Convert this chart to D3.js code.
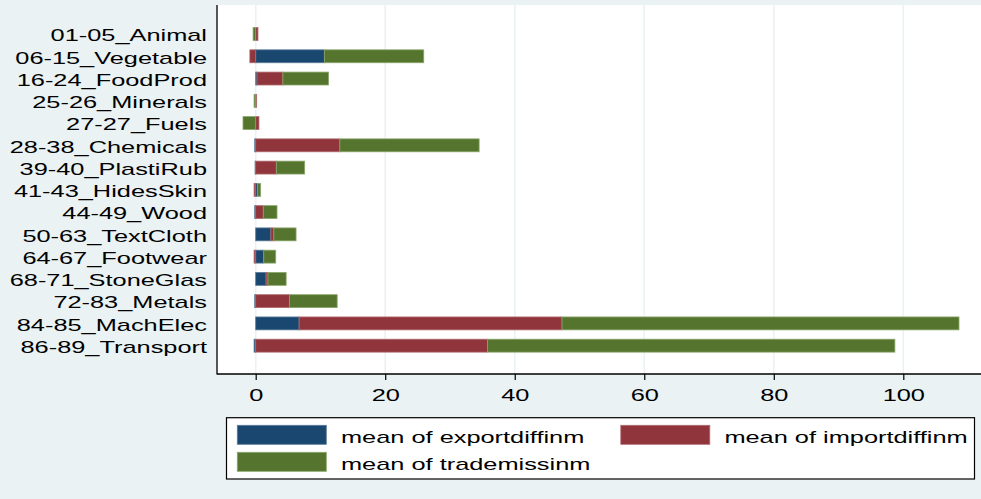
<!DOCTYPE html>
<html>
<head>
<meta charset="utf-8">
<script src="https://cdn.jsdelivr.net/npm/d3@7"></script>
<style>
  html, body { margin: 0; padding: 0; background: #eaf2f3; }
  svg { display: block; }
  text { font-family: "Liberation Sans", Arial, Helvetica, sans-serif; }
</style>
</head>
<body>
<svg id="chart" width="981" height="499"></svg>
<script>
const categories = ["01-05_Animal", "06-15_Vegetable", "16-24_FoodProd", "25-26_Minerals", "27-27_Fuels",
  "28-38_Chemicals", "39-40_PlastiRub", "41-43_HidesSkin", "44-49_Wood", "50-63_TextCloth",
  "64-67_Footwear", "68-71_StoneGlas", "72-83_Metals", "84-85_MachElec", "86-89_Transport"];
const exportdiffinm = [0.0, 10.6, 0.2, 0.0, 0.0, -0.15, -0.1, 0.3, -0.15, 2.35, 1.24, 1.6, -0.15, 6.7, -0.25];
const importdiffinm = [0.35, -0.9, 4.0, 0.15, 0.5, 13.0, 3.18, -0.25, 1.17, 0.45, -0.25, 0.3, 5.2, 40.6, 35.8];
const trademissinm = [-0.4, 15.35, 7.05, -0.25, -1.96, 21.5, 4.38, 0.46, 2.12, 3.43, 1.85, 2.8, 7.38, 61.3, 62.9];
const seriesNames = ["mean of exportdiffinm", "mean of importdiffinm", "mean of trademissinm"];
const seriesColors = ["#1a476f", "#90353b", "#55752f"];
const seriesStrokes = ["#5a7a98", "#b06a6f", "#8aa56a"];
const xTicks = [0, 20, 40, 60, 80, 100];

const keys = ["e", "i", "t"];
const rows = categories.map((c, k) => ({ cat: c, e: exportdiffinm[k], i: importdiffinm[k], t: trademissinm[k] }));
const stacked = d3.stack().keys(keys).offset(d3.stackOffsetDiverging)(rows);

const svg = d3.select("#chart");
const W = 981, H = 499;
const SX = 1.51, FS = 16.8;

svg.append("rect").attr("width", W).attr("height", H).attr("fill", "#eaf2f3");

const plot = { left: 217, right: 990, top: 5, bottom: 374 };
const x = d3.scaleLinear().domain([0, 100]).range([255.7, 903.3]);
const y = d3.scaleBand().domain(categories).range([22.9, 356.8]).paddingInner(0.42).paddingOuter(0.21);

// plot region
svg.append("rect").attr("x", plot.left).attr("y", plot.top)
  .attr("width", plot.right - plot.left).attr("height", plot.bottom - plot.top).attr("fill", "#ffffff");

// gridlines
svg.append("g").selectAll("line").data(xTicks).join("line")
  .attr("x1", d => x(d)).attr("x2", d => x(d))
  .attr("y1", plot.top).attr("y2", plot.bottom)
  .attr("stroke", "#eaf2f3").attr("stroke-width", 1.6);

// bars
svg.append("g").selectAll("g").data(stacked).join("g")
  .attr("fill", (d, k) => seriesColors[k])
  .attr("stroke", (d, k) => seriesStrokes[k])
  .attr("stroke-width", 0.8)
  .selectAll("rect").data(d => d).join("rect")
  .attr("x", d => x(Math.min(d[0], d[1])))
  .attr("width", d => Math.abs(x(d[1]) - x(d[0])))
  .attr("y", d => y(d.data.cat))
  .attr("height", y.bandwidth());

// axes lines
svg.append("line").attr("x1", plot.left).attr("x2", plot.left).attr("y1", plot.top).attr("y2", plot.bottom + 0.5)
  .attr("stroke", "#000").attr("stroke-width", 1.3);
svg.append("line").attr("x1", plot.left).attr("x2", plot.right).attr("y1", plot.bottom).attr("y2", plot.bottom)
  .attr("stroke", "#000").attr("stroke-width", 1.3);

// x axis ticks via d3 axis
const xAxis = d3.axisBottom(x).tickValues(xTicks).tickSize(6).tickPadding(0).tickFormat("");
const gx = svg.append("g").attr("transform", `translate(0,${plot.bottom})`).call(xAxis);
gx.select(".domain").remove();
gx.selectAll(".tick line").attr("stroke", "#000").attr("stroke-width", 1.2);
gx.selectAll(".tick").append("text")
  .attr("fill", "#000").attr("font-size", FS).attr("text-anchor", "middle")
  .attr("transform", `translate(0,26.5) scale(${SX},1)`)
  .text(d => d3.format("d")(d));

// category labels
svg.append("g").selectAll("text").data(categories).join("text")
  .attr("font-size", FS).attr("text-anchor", "end").attr("fill", "#000")
  .attr("transform", d => `translate(207,${y(d) + y.bandwidth() / 2 + 7.3}) scale(${SX},1)`)
  .text(d => d);

// legend
const leg = svg.append("g");
leg.append("rect").attr("x", 226.5).attr("y", 417.7).attr("width", 748).attr("height", 61.3)
  .attr("fill", "#fff").attr("stroke", "#000").attr("stroke-width", 1.2);
const legPos = [
  { kx: 237.3, ky: 425.3, tx: 341, ty: 442.5 },
  { kx: 620.8, ky: 425.3, tx: 724.4, ty: 442.5 },
  { kx: 237.3, ky: 452.3, tx: 341, ty: 469.5 }
];
seriesNames.forEach((n, k) => {
  const p = legPos[k];
  leg.append("rect").attr("x", p.kx).attr("y", p.ky).attr("width", 89).attr("height", 19)
    .attr("fill", seriesColors[k]).attr("stroke", seriesStrokes[k]).attr("stroke-width", 0.8);
  leg.append("text").attr("font-size", FS).attr("fill", "#000")
    .attr("transform", `translate(${p.tx},${p.ty}) scale(${SX},1)`).text(n);
});
</script>
</body>
</html>
